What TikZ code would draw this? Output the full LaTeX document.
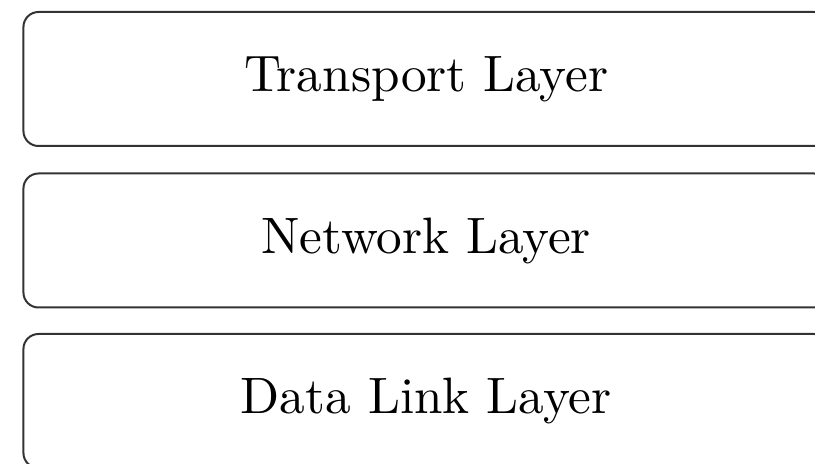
\documentclass[tikz,border=0pt]{standalone}
\usepackage{graphicx}
\newcommand{\layertext}[1]{\scalebox{2.56}{#1}}
\begin{document}
\begin{tikzpicture}[x=1pt,y=1pt,
  layerbox/.style={draw=black!80, line width=1pt, rounded corners=7.5pt,
    minimum width=402.75pt, minimum height=67pt, inner sep=0pt,
    font=\normalsize}]
  \useasboundingbox (0,0) rectangle (407.5,-232);
  \node[layerbox] (transport) at (213.1,-39.5) {\layertext{Transport Layer}};
  \node[layerbox] (network)   at (213.1,-120.25) {\layertext{Network Layer}};
  \node[layerbox] (datalink)  at (213.1,-200.5) {\layertext{Data Link Layer}};
\end{tikzpicture}
\end{document}
